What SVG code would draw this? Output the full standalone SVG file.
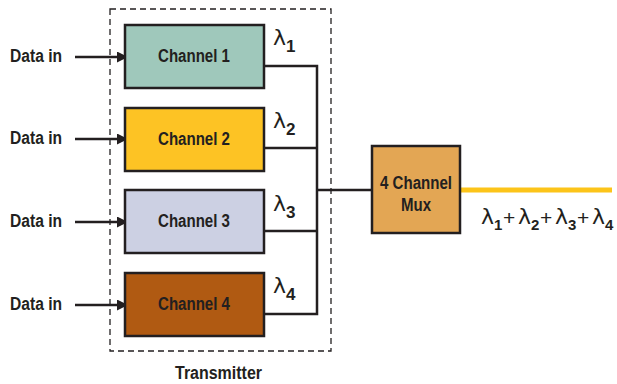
<svg xmlns="http://www.w3.org/2000/svg" width="617" height="384" viewBox="0 0 617 384">
<style>
.lbl{font-family:"Liberation Sans",Arial,sans-serif;font-weight:bold;font-size:18px;fill:#231f20}
.box{stroke:#231f20;stroke-width:2.5}
.wire{fill:none;stroke:#231f20;stroke-width:2.5}
.lam{font-family:"DejaVu Sans","Liberation Sans",sans-serif;font-size:22px;fill:#231f20}
.sub{font-family:"Liberation Sans",sans-serif;font-weight:bold;font-size:17px}
.sub2{font-family:"Liberation Sans",sans-serif;font-weight:bold;font-size:15px}
.plus{font-family:"Liberation Sans",sans-serif;font-size:21px}
</style>
<defs>
<marker id="ah" viewBox="0 0 10 10" refX="10" refY="5" markerWidth="11" markerHeight="11" markerUnits="userSpaceOnUse" orient="auto">
<path d="M0,0 L10,5 L0,10 z" fill="#231f20"/>
</marker>
</defs>
<rect x="110" y="9" width="221" height="342" fill="none" stroke="#231f20" stroke-width="1.3" stroke-dasharray="6,4"/>
<g id="connectors">
<line class="wire" x1="75" y1="57" x2="128" y2="57" marker-end="url(#ah)"/>
<line class="wire" x1="75" y1="139" x2="128" y2="139" marker-end="url(#ah)"/>
<line class="wire" x1="75" y1="222" x2="128" y2="222" marker-end="url(#ah)"/>
<line class="wire" x1="75" y1="305" x2="128" y2="305" marker-end="url(#ah)"/>
<polyline class="wire" points="264,66 317,66 317,314 264,314"/>
<line class="wire" x1="264" y1="148" x2="317" y2="148"/>
<line class="wire" x1="264" y1="231" x2="317" y2="231"/>
<line class="wire" x1="317" y1="190" x2="372" y2="190"/>
<line x1="460" y1="190" x2="612" y2="190" stroke="#fcc419" stroke-width="5"/>
</g>
<g id="in1"><text class="lbl" x="10" y="62" textLength="52" lengthAdjust="spacingAndGlyphs">Data in</text></g>
<g id="in2"><text class="lbl" x="10" y="144" textLength="52" lengthAdjust="spacingAndGlyphs">Data in</text></g>
<g id="in3"><text class="lbl" x="10" y="227" textLength="52" lengthAdjust="spacingAndGlyphs">Data in</text></g>
<g id="in4"><text class="lbl" x="10" y="310" textLength="52" lengthAdjust="spacingAndGlyphs">Data in</text></g>
<g id="ch1"><rect class="box" x="125" y="25" width="139" height="63" fill="#9fc8bb"/><text class="lbl" x="158" y="62" textLength="72" lengthAdjust="spacingAndGlyphs">Channel 1</text></g>
<g id="ch2"><rect class="box" x="125" y="108" width="139" height="63" fill="#fdc324"/><text class="lbl" x="158" y="145" textLength="72" lengthAdjust="spacingAndGlyphs">Channel 2</text></g>
<g id="ch3"><rect class="box" x="125" y="190" width="139" height="63" fill="#ccd0e3"/><text class="lbl" x="158" y="227" textLength="72" lengthAdjust="spacingAndGlyphs">Channel 3</text></g>
<g id="ch4"><rect class="box" x="125" y="273" width="139" height="63" fill="#b05a12"/><text class="lbl" x="158" y="310" textLength="72" lengthAdjust="spacingAndGlyphs">Channel 4</text></g>
<g id="lam1"><text class="lam" x="273" y="45">λ<tspan class="sub" dy="7">1</tspan></text></g>
<g id="lam2"><text class="lam" x="273" y="128">λ<tspan class="sub" dy="7">2</tspan></text></g>
<g id="lam3"><text class="lam" x="273" y="211">λ<tspan class="sub" dy="7">3</tspan></text></g>
<g id="lam4"><text class="lam" x="273" y="293">λ<tspan class="sub" dy="7">4</tspan></text></g>
<g id="mux"><rect class="box" x="372" y="146" width="88" height="87" fill="#e3a654"/>
<text class="lbl" x="416" y="189" text-anchor="middle" textLength="72" lengthAdjust="spacingAndGlyphs">4 Channel</text>
<text class="lbl" x="416" y="211" text-anchor="middle" textLength="30" lengthAdjust="spacingAndGlyphs">Mux</text></g>
<g id="sum"><text class="lam" y="224"><tspan x="481">λ</tspan><tspan class="sub2" x="494" y="230">1</tspan><tspan class="plus" x="503" y="225">+</tspan><tspan x="518" y="224">λ</tspan><tspan class="sub2" x="531" y="230">2</tspan><tspan class="plus" x="540" y="225">+</tspan><tspan x="555" y="224">λ</tspan><tspan class="sub2" x="568" y="230">3</tspan><tspan class="plus" x="577" y="225">+</tspan><tspan x="592" y="224">λ</tspan><tspan class="sub2" x="605" y="230">4</tspan></text></g>
<g id="tx"><text class="lbl" x="175" y="379" textLength="87" lengthAdjust="spacingAndGlyphs">Transmitter</text></g>
</svg>
